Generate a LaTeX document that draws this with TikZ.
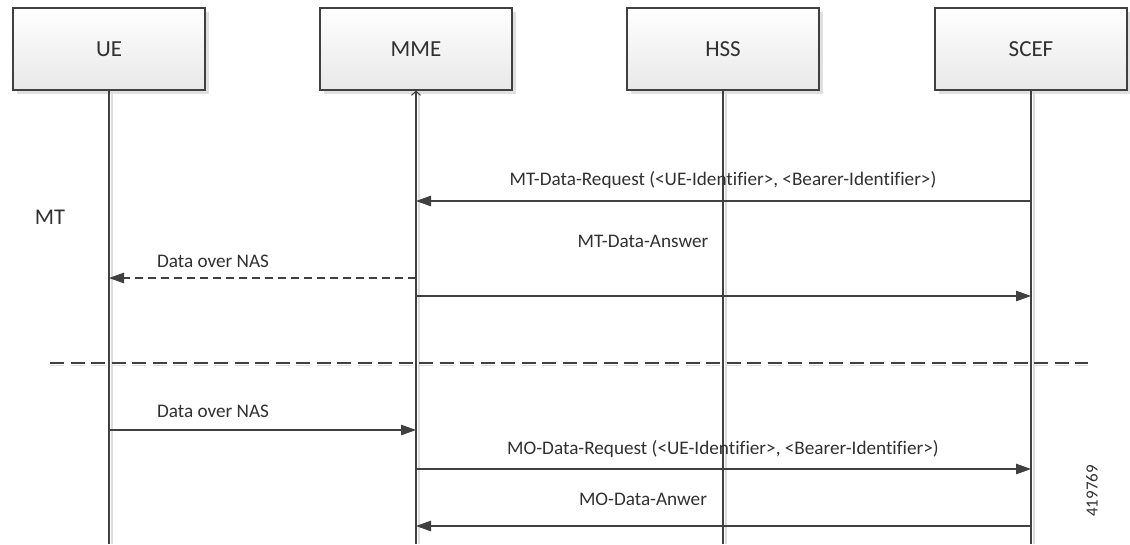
\documentclass[tikz,border=0pt]{standalone}
\usepackage{fontspec}
\setmainfont[Ligatures=CommonOff]{Carlito}
\usetikzlibrary{arrows.meta,shadows}
\definecolor{ln}{HTML}{404040}
\definecolor{tx}{HTML}{303030}
\definecolor{shd}{HTML}{DCDCDC}
\begin{document}
\begin{tikzpicture}[x=1pt,y=-1pt,
  actor/.style={draw=ln, line width=1.1pt, top color=white, bottom color=black!9,
    minimum width=192pt, minimum height=82pt, inner sep=0pt, text=tx,
    font=\fontsize{23}{26}\selectfont,
    drop shadow={shadow xshift=4pt, shadow yshift=-4pt, fill=black!12, opacity=1}},
  life/.style={draw=ln, line width=1.1pt},
  lifeshadow/.style={draw=shd, line width=1.5pt},
  msg/.style={draw=ln, line width=1.1pt, -{Triangle[length=15pt,width=10.5pt]}},
  dmsg/.style={msg, dash pattern=on 8pt off 5pt},
  lbl/.style={text=tx, font=\fontsize{19.2}{22}\selectfont, inner sep=0pt},
  sep/.style={draw=ln, line width=1.3pt, dash pattern=on 14pt off 6.5pt},
  sepshadow/.style={draw=shd, line width=1.3pt, dash pattern=on 14pt off 6.5pt}
]
\useasboundingbox (0,0) rectangle (1130,544);
% actors
\node[actor] (ue) at (109,49) {UE};
\node[actor] (mme) at (416,49) {MME};
\node[actor] (hss) at (723,49) {HSS};
\node[actor] (scef) at (1031,49) {SCEF};
% lifeline ends
\coordinate (ueb) at (ue.south |- 0,544);
\coordinate (mmeb) at (mme.south |- 0,544);
\coordinate (hssb) at (hss.south |- 0,544);
\coordinate (scefb) at (scef.south |- 0,544);
% lifeline shadows
\draw[lifeshadow] ([xshift=3pt]ue.south) -- ([xshift=3pt]ueb);
\draw[lifeshadow] ([xshift=3pt]mme.south) -- ([xshift=3pt]mmeb);
\draw[lifeshadow] ([xshift=3pt]hss.south) -- ([xshift=3pt]hssb);
\draw[lifeshadow] ([xshift=3pt]scef.south) -- ([xshift=3pt]scefb);
% separator
\coordinate (sepl) at (50,363);
\coordinate (sepr) at (1088,363);
\draw[sepshadow] ([yshift=-2.5pt]sepl) -- ([yshift=-2.5pt]sepr);
\draw[sep] (sepl) -- (sepr);
% lifelines
\draw[life] (ue.south) -- (ueb);
\draw[life, {Straight Barb[length=4pt,width=9pt]}-] (mme.south) -- (mmeb);
\draw[life] (hss.south) -- (hssb);
\draw[life] (scef.south) -- (scefb);
% MT part
\node[lbl, font=\fontsize{22.5}{26}\selectfont] (mt) at (50,217) {MT};
\coordinate (a1s) at (scef.south |- 0,201);
\coordinate (a1e) at (mme.south |- 0,201);
\draw[msg] (a1s) -- (a1e);
\node[lbl] (l1) at (723,180) {MT-Data-Request (<UE-Identifier>, <Bearer-Identifier>)};
\node[lbl] (l2) at (643,241) {MT-Data-Answer};
\coordinate (a2s) at (mme.south |- 0,278);
\coordinate (a2e) at (ue.south |- 0,278);
\draw[dmsg] (a2s) -- (a2e);
\node[lbl] (l3) at (213,261) {Data over NAS};
\coordinate (a3s) at (mme.south |- 0,296);
\coordinate (a3e) at (scef.south |- 0,296);
\draw[msg] (a3s) -- (a3e);
% MO part
\coordinate (a4s) at (ue.south |- 0,430);
\coordinate (a4e) at (mme.south |- 0,430);
\draw[msg] (a4s) -- (a4e);
\node[lbl] (l4) at (213,411) {Data over NAS};
\coordinate (a5s) at (mme.south |- 0,469);
\coordinate (a5e) at (scef.south |- 0,469);
\draw[msg] (a5s) -- (a5e);
\node[lbl] (l5) at (723,449) {MO-Data-Request (<UE-Identifier>, <Bearer-Identifier>)};
\coordinate (a6s) at (scef.south |- 0,526);
\coordinate (a6e) at (mme.south |- 0,526);
\draw[msg] (a6s) -- (a6e);
\node[lbl] (l6) at (643,499) {MO-Data-Anwer};
\node[lbl, rotate=90, font=\fontsize{17}{19}\selectfont] (fig) at (1092,491) {419769};
\end{tikzpicture}
\end{document}
